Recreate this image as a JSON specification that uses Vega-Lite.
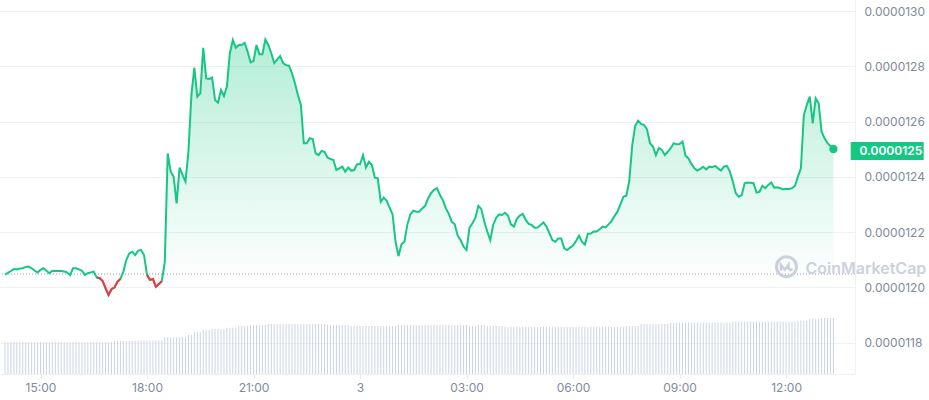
{
"$schema": "https://vega.github.io/schema/vega-lite/v6.json",
"width": 855, "height": 374,
"autosize": {"type": "none"},
"padding": {"left": 0, "top": 0, "right": 74, "bottom": 26},
"background": "white",
"config": {"view": {"stroke": null}, "font": "Inter", "axis": {"labelFont": "Inter", "labelColor": "#808a9d", "labelFontSize": 12, "gridColor": "#eff2f5", "domainColor": "#eff2f5", "tickColor": "#e3e7ee"}},
"data": {"values": [
{"t":"2024-07-02T14:00Z","p":1.2046e-5,"o":1.2048e-5,"v":31.7},{"t":"2024-07-02T14:05Z","p":1.2052e-5,"o":1.2048e-5,"v":31.7},{"t":"2024-07-02T14:10Z","p":1.2059e-5,"o":1.2048e-5,"v":31.7},{"t":"2024-07-02T14:15Z","p":1.2066e-5,"o":1.2048e-5,"v":31.7},{"t":"2024-07-02T14:20Z","p":1.2065e-5,"o":1.2048e-5,"v":31.7},{"t":"2024-07-02T14:25Z","p":1.2068e-5,"o":1.2048e-5,"v":31.7},{"t":"2024-07-02T14:30Z","p":1.2069e-5,"o":1.2048e-5,"v":31.7},{"t":"2024-07-02T14:35Z","p":1.2074e-5,"o":1.2048e-5,"v":31.7},{"t":"2024-07-02T14:40Z","p":1.2075e-5,"o":1.2048e-5,"v":31.7},{"t":"2024-07-02T14:45Z","p":1.2069e-5,"o":1.2048e-5,"v":31.7},
{"t":"2024-07-02T14:50Z","p":1.2061e-5,"o":1.2048e-5,"v":31.7},{"t":"2024-07-02T14:55Z","p":1.2054e-5,"o":1.2048e-5,"v":31.7},{"t":"2024-07-02T15:00Z","p":1.2063e-5,"o":1.2048e-5,"v":31.7},{"t":"2024-07-02T15:05Z","p":1.2069e-5,"o":1.2048e-5,"v":31.7},{"t":"2024-07-02T15:10Z","p":1.2060e-5,"o":1.2048e-5,"v":31.7},{"t":"2024-07-02T15:15Z","p":1.2051e-5,"o":1.2048e-5,"v":31.7},{"t":"2024-07-02T15:20Z","p":1.2060e-5,"o":1.2048e-5,"v":31.7},{"t":"2024-07-02T15:25Z","p":1.2059e-5,"o":1.2048e-5,"v":31.7},{"t":"2024-07-02T15:30Z","p":1.2059e-5,"o":1.2048e-5,"v":31.7},{"t":"2024-07-02T15:35Z","p":1.2059e-5,"o":1.2048e-5,"v":31.7},
{"t":"2024-07-02T15:40Z","p":1.2057e-5,"o":1.2048e-5,"v":31.7},{"t":"2024-07-02T15:45Z","p":1.2054e-5,"o":1.2048e-5,"v":31.7},{"t":"2024-07-02T15:50Z","p":1.2044e-5,"o":1.2048e-5,"v":31.7},{"t":"2024-07-02T15:55Z","p":1.2069e-5,"o":1.2048e-5,"v":31.7},{"t":"2024-07-02T16:00Z","p":1.2069e-5,"o":1.2048e-5,"v":31.7},{"t":"2024-07-02T16:05Z","p":1.2065e-5,"o":1.2048e-5,"v":31.7},{"t":"2024-07-02T16:10Z","p":1.2060e-5,"o":1.2048e-5,"v":31.7},{"t":"2024-07-02T16:15Z","p":1.2045e-5,"o":1.2048e-5,"v":31.7},{"t":"2024-07-02T16:20Z","p":1.2051e-5,"o":1.2048e-5,"v":31.7},{"t":"2024-07-02T16:25Z","p":1.2054e-5,"o":1.2048e-5,"v":31.7},
{"t":"2024-07-02T16:30Z","p":1.2057e-5,"o":1.2048e-5,"v":31.7},{"t":"2024-07-02T16:35Z","p":1.2036e-5,"o":1.2048e-5,"v":31.7},{"t":"2024-07-02T16:40Z","p":1.2033e-5,"o":1.2048e-5,"v":31.7},{"t":"2024-07-02T16:45Z","p":1.2023e-5,"o":1.2048e-5,"v":31.7},{"t":"2024-07-02T16:50Z","p":1.1996e-5,"o":1.2048e-5,"v":31.7},{"t":"2024-07-02T16:55Z","p":1.1972e-5,"o":1.2048e-5,"v":31.7},{"t":"2024-07-02T17:00Z","p":1.1993e-5,"o":1.2048e-5,"v":31.7},{"t":"2024-07-02T17:05Z","p":1.1999e-5,"o":1.2048e-5,"v":33},{"t":"2024-07-02T17:10Z","p":1.2020e-5,"o":1.2048e-5,"v":33},{"t":"2024-07-02T17:15Z","p":1.2030e-5,"o":1.2048e-5,"v":33},
{"t":"2024-07-02T17:20Z","p":1.2057e-5,"o":1.2048e-5,"v":33},{"t":"2024-07-02T17:25Z","p":1.2099e-5,"o":1.2048e-5,"v":33},{"t":"2024-07-02T17:30Z","p":1.2123e-5,"o":1.2048e-5,"v":33},{"t":"2024-07-02T17:35Z","p":1.2129e-5,"o":1.2048e-5,"v":33},{"t":"2024-07-02T17:40Z","p":1.2117e-5,"o":1.2048e-5,"v":33},{"t":"2024-07-02T17:45Z","p":1.2133e-5,"o":1.2048e-5,"v":33.5},{"t":"2024-07-02T17:50Z","p":1.2135e-5,"o":1.2048e-5,"v":33.5},{"t":"2024-07-02T17:55Z","p":1.2117e-5,"o":1.2048e-5,"v":33.5},{"t":"2024-07-02T18:00Z","p":1.2045e-5,"o":1.2048e-5,"v":33.5},{"t":"2024-07-02T18:05Z","p":1.2027e-5,"o":1.2048e-5,"v":33.5},
{"t":"2024-07-02T18:10Z","p":1.2030e-5,"o":1.2048e-5,"v":33.5},{"t":"2024-07-02T18:15Z","p":1.2002e-5,"o":1.2048e-5,"v":33.5},{"t":"2024-07-02T18:20Z","p":1.2012e-5,"o":1.2048e-5,"v":33.5},{"t":"2024-07-02T18:25Z","p":1.2022e-5,"o":1.2048e-5,"v":33.5},{"t":"2024-07-02T18:30Z","p":1.2090e-5,"o":1.2048e-5,"v":36.7},{"t":"2024-07-02T18:35Z","p":1.2485e-5,"o":1.2048e-5,"v":36.7},{"t":"2024-07-02T18:40Z","p":1.2419e-5,"o":1.2048e-5,"v":36.7},{"t":"2024-07-02T18:45Z","p":1.2401e-5,"o":1.2048e-5,"v":36.7},{"t":"2024-07-02T18:50Z","p":1.2304e-5,"o":1.2048e-5,"v":36.7},{"t":"2024-07-02T18:55Z","p":1.2434e-5,"o":1.2048e-5,"v":36.7},
{"t":"2024-07-02T19:00Z","p":1.2407e-5,"o":1.2048e-5,"v":36.7},{"t":"2024-07-02T19:05Z","p":1.2383e-5,"o":1.2048e-5,"v":36.7},{"t":"2024-07-02T19:10Z","p":1.2492e-5,"o":1.2048e-5,"v":39},{"t":"2024-07-02T19:15Z","p":1.2697e-5,"o":1.2048e-5,"v":39},{"t":"2024-07-02T19:20Z","p":1.2796e-5,"o":1.2048e-5,"v":41.7},{"t":"2024-07-02T19:25Z","p":1.2691e-5,"o":1.2048e-5,"v":41.7},{"t":"2024-07-02T19:30Z","p":1.2703e-5,"o":1.2048e-5,"v":41.7},{"t":"2024-07-02T19:35Z","p":1.2868e-5,"o":1.2048e-5,"v":44},{"t":"2024-07-02T19:40Z","p":1.2757e-5,"o":1.2048e-5,"v":44},{"t":"2024-07-02T19:45Z","p":1.2755e-5,"o":1.2048e-5,"v":44},
{"t":"2024-07-02T19:50Z","p":1.2760e-5,"o":1.2048e-5,"v":45},{"t":"2024-07-02T19:55Z","p":1.2679e-5,"o":1.2048e-5,"v":45},{"t":"2024-07-02T20:00Z","p":1.2669e-5,"o":1.2048e-5,"v":45},{"t":"2024-07-02T20:05Z","p":1.2715e-5,"o":1.2048e-5,"v":45},{"t":"2024-07-02T20:10Z","p":1.2693e-5,"o":1.2048e-5,"v":45},{"t":"2024-07-02T20:15Z","p":1.2727e-5,"o":1.2048e-5,"v":46.3},{"t":"2024-07-02T20:20Z","p":1.2848e-5,"o":1.2048e-5,"v":46.3},{"t":"2024-07-02T20:25Z","p":1.2896e-5,"o":1.2048e-5,"v":46.3},{"t":"2024-07-02T20:30Z","p":1.2868e-5,"o":1.2048e-5,"v":46.3},{"t":"2024-07-02T20:35Z","p":1.2878e-5,"o":1.2048e-5,"v":48},
{"t":"2024-07-02T20:40Z","p":1.2878e-5,"o":1.2048e-5,"v":48},{"t":"2024-07-02T20:45Z","p":1.2886e-5,"o":1.2048e-5,"v":48},{"t":"2024-07-02T20:50Z","p":1.2854e-5,"o":1.2048e-5,"v":48},{"t":"2024-07-02T20:55Z","p":1.2815e-5,"o":1.2048e-5,"v":49},{"t":"2024-07-02T21:00Z","p":1.2820e-5,"o":1.2048e-5,"v":49},{"t":"2024-07-02T21:05Z","p":1.2878e-5,"o":1.2048e-5,"v":49},{"t":"2024-07-02T21:10Z","p":1.2844e-5,"o":1.2048e-5,"v":49},{"t":"2024-07-02T21:15Z","p":1.2844e-5,"o":1.2048e-5,"v":49},{"t":"2024-07-02T21:20Z","p":1.2898e-5,"o":1.2048e-5,"v":49},{"t":"2024-07-02T21:25Z","p":1.2878e-5,"o":1.2048e-5,"v":50},
{"t":"2024-07-02T21:30Z","p":1.2848e-5,"o":1.2048e-5,"v":50},{"t":"2024-07-02T21:35Z","p":1.2812e-5,"o":1.2048e-5,"v":50},{"t":"2024-07-02T21:40Z","p":1.2826e-5,"o":1.2048e-5,"v":50},{"t":"2024-07-02T21:45Z","p":1.2838e-5,"o":1.2048e-5,"v":50},{"t":"2024-07-02T21:50Z","p":1.2812e-5,"o":1.2048e-5,"v":50},{"t":"2024-07-02T21:55Z","p":1.2805e-5,"o":1.2048e-5,"v":50},{"t":"2024-07-02T22:00Z","p":1.2803e-5,"o":1.2048e-5,"v":50},{"t":"2024-07-02T22:05Z","p":1.2775e-5,"o":1.2048e-5,"v":50},{"t":"2024-07-02T22:10Z","p":1.2739e-5,"o":1.2048e-5,"v":50},{"t":"2024-07-02T22:15Z","p":1.2697e-5,"o":1.2048e-5,"v":50},
{"t":"2024-07-02T22:20Z","p":1.2661e-5,"o":1.2048e-5,"v":50},{"t":"2024-07-02T22:25Z","p":1.2522e-5,"o":1.2048e-5,"v":50},{"t":"2024-07-02T22:30Z","p":1.2522e-5,"o":1.2048e-5,"v":50},{"t":"2024-07-02T22:35Z","p":1.2540e-5,"o":1.2048e-5,"v":50},{"t":"2024-07-02T22:40Z","p":1.2537e-5,"o":1.2048e-5,"v":50},{"t":"2024-07-02T22:45Z","p":1.2485e-5,"o":1.2048e-5,"v":50},{"t":"2024-07-02T22:50Z","p":1.2479e-5,"o":1.2048e-5,"v":50},{"t":"2024-07-02T22:55Z","p":1.2494e-5,"o":1.2048e-5,"v":50},{"t":"2024-07-02T23:00Z","p":1.2491e-5,"o":1.2048e-5,"v":50},{"t":"2024-07-02T23:05Z","p":1.2470e-5,"o":1.2048e-5,"v":49},
{"t":"2024-07-02T23:10Z","p":1.2465e-5,"o":1.2048e-5,"v":49},{"t":"2024-07-02T23:15Z","p":1.2461e-5,"o":1.2048e-5,"v":49},{"t":"2024-07-02T23:20Z","p":1.2425e-5,"o":1.2048e-5,"v":49},{"t":"2024-07-02T23:25Z","p":1.2431e-5,"o":1.2048e-5,"v":49},{"t":"2024-07-02T23:30Z","p":1.2437e-5,"o":1.2048e-5,"v":49},{"t":"2024-07-02T23:35Z","p":1.2419e-5,"o":1.2048e-5,"v":49},{"t":"2024-07-02T23:40Z","p":1.2434e-5,"o":1.2048e-5,"v":49},{"t":"2024-07-02T23:45Z","p":1.2423e-5,"o":1.2048e-5,"v":48},{"t":"2024-07-02T23:50Z","p":1.2425e-5,"o":1.2048e-5,"v":48},{"t":"2024-07-02T23:55Z","p":1.2446e-5,"o":1.2048e-5,"v":48},
{"t":"2024-07-03T00:00Z","p":1.2446e-5,"o":1.2048e-5,"v":48},{"t":"2024-07-03T00:05Z","p":1.2479e-5,"o":1.2048e-5,"v":48},{"t":"2024-07-03T00:10Z","p":1.2434e-5,"o":1.2048e-5,"v":48},{"t":"2024-07-03T00:15Z","p":1.2455e-5,"o":1.2048e-5,"v":48},{"t":"2024-07-03T00:20Z","p":1.2443e-5,"o":1.2048e-5,"v":48},{"t":"2024-07-03T00:25Z","p":1.2397e-5,"o":1.2048e-5,"v":48},{"t":"2024-07-03T00:30Z","p":1.2395e-5,"o":1.2048e-5,"v":48},{"t":"2024-07-03T00:35Z","p":1.2310e-5,"o":1.2048e-5,"v":48},{"t":"2024-07-03T00:40Z","p":1.2325e-5,"o":1.2048e-5,"v":48},{"t":"2024-07-03T00:45Z","p":1.2313e-5,"o":1.2048e-5,"v":48},
{"t":"2024-07-03T00:50Z","p":1.2289e-5,"o":1.2048e-5,"v":48},{"t":"2024-07-03T00:55Z","p":1.2264e-5,"o":1.2048e-5,"v":48},{"t":"2024-07-03T01:00Z","p":1.2165e-5,"o":1.2048e-5,"v":48},{"t":"2024-07-03T01:05Z","p":1.2113e-5,"o":1.2048e-5,"v":49},{"t":"2024-07-03T01:10Z","p":1.2156e-5,"o":1.2048e-5,"v":49},{"t":"2024-07-03T01:15Z","p":1.2165e-5,"o":1.2048e-5,"v":49},{"t":"2024-07-03T01:20Z","p":1.2228e-5,"o":1.2048e-5,"v":49},{"t":"2024-07-03T01:25Z","p":1.2264e-5,"o":1.2048e-5,"v":49},{"t":"2024-07-03T01:30Z","p":1.2278e-5,"o":1.2048e-5,"v":49},{"t":"2024-07-03T01:35Z","p":1.2274e-5,"o":1.2048e-5,"v":49},
{"t":"2024-07-03T01:40Z","p":1.2274e-5,"o":1.2048e-5,"v":49},{"t":"2024-07-03T01:45Z","p":1.2286e-5,"o":1.2048e-5,"v":49},{"t":"2024-07-03T01:50Z","p":1.2295e-5,"o":1.2048e-5,"v":49},{"t":"2024-07-03T01:55Z","p":1.2322e-5,"o":1.2048e-5,"v":49},{"t":"2024-07-03T02:00Z","p":1.2341e-5,"o":1.2048e-5,"v":49},{"t":"2024-07-03T02:05Z","p":1.2353e-5,"o":1.2048e-5,"v":49},{"t":"2024-07-03T02:10Z","p":1.2359e-5,"o":1.2048e-5,"v":49},{"t":"2024-07-03T02:15Z","p":1.2334e-5,"o":1.2048e-5,"v":49},{"t":"2024-07-03T02:20Z","p":1.2316e-5,"o":1.2048e-5,"v":49},{"t":"2024-07-03T02:25Z","p":1.2286e-5,"o":1.2048e-5,"v":49},
{"t":"2024-07-03T02:30Z","p":1.2266e-5,"o":1.2048e-5,"v":49},{"t":"2024-07-03T02:35Z","p":1.2238e-5,"o":1.2048e-5,"v":49},{"t":"2024-07-03T02:40Z","p":1.2228e-5,"o":1.2048e-5,"v":49},{"t":"2024-07-03T02:45Z","p":1.2187e-5,"o":1.2048e-5,"v":49},{"t":"2024-07-03T02:50Z","p":1.2171e-5,"o":1.2048e-5,"v":49},{"t":"2024-07-03T02:55Z","p":1.2147e-5,"o":1.2048e-5,"v":49},{"t":"2024-07-03T03:00Z","p":1.2135e-5,"o":1.2048e-5,"v":49},{"t":"2024-07-03T03:05Z","p":1.2216e-5,"o":1.2048e-5,"v":48},{"t":"2024-07-03T03:10Z","p":1.2232e-5,"o":1.2048e-5,"v":48},{"t":"2024-07-03T03:15Z","p":1.2252e-5,"o":1.2048e-5,"v":48},
{"t":"2024-07-03T03:20Z","p":1.2295e-5,"o":1.2048e-5,"v":49},{"t":"2024-07-03T03:25Z","p":1.2283e-5,"o":1.2048e-5,"v":49},{"t":"2024-07-03T03:30Z","p":1.2238e-5,"o":1.2048e-5,"v":49},{"t":"2024-07-03T03:35Z","p":1.2202e-5,"o":1.2048e-5,"v":48},{"t":"2024-07-03T03:40Z","p":1.2171e-5,"o":1.2048e-5,"v":48},{"t":"2024-07-03T03:45Z","p":1.2226e-5,"o":1.2048e-5,"v":48},{"t":"2024-07-03T03:50Z","p":1.2252e-5,"o":1.2048e-5,"v":48},{"t":"2024-07-03T03:55Z","p":1.2264e-5,"o":1.2048e-5,"v":48},{"t":"2024-07-03T04:00Z","p":1.2262e-5,"o":1.2048e-5,"v":48},{"t":"2024-07-03T04:05Z","p":1.2270e-5,"o":1.2048e-5,"v":47},
{"t":"2024-07-03T04:10Z","p":1.2260e-5,"o":1.2048e-5,"v":47},{"t":"2024-07-03T04:15Z","p":1.2228e-5,"o":1.2048e-5,"v":47},{"t":"2024-07-03T04:20Z","p":1.2220e-5,"o":1.2048e-5,"v":47},{"t":"2024-07-03T04:25Z","p":1.2248e-5,"o":1.2048e-5,"v":47},{"t":"2024-07-03T04:30Z","p":1.2260e-5,"o":1.2048e-5,"v":47},{"t":"2024-07-03T04:35Z","p":1.2266e-5,"o":1.2048e-5,"v":47},{"t":"2024-07-03T04:40Z","p":1.2244e-5,"o":1.2048e-5,"v":47},{"t":"2024-07-03T04:45Z","p":1.2230e-5,"o":1.2048e-5,"v":47},{"t":"2024-07-03T04:50Z","p":1.2226e-5,"o":1.2048e-5,"v":47},{"t":"2024-07-03T04:55Z","p":1.2216e-5,"o":1.2048e-5,"v":47},
{"t":"2024-07-03T05:00Z","p":1.2217e-5,"o":1.2048e-5,"v":47},{"t":"2024-07-03T05:05Z","p":1.2226e-5,"o":1.2048e-5,"v":47},{"t":"2024-07-03T05:10Z","p":1.2235e-5,"o":1.2048e-5,"v":47},{"t":"2024-07-03T05:15Z","p":1.2220e-5,"o":1.2048e-5,"v":47},{"t":"2024-07-03T05:20Z","p":1.2196e-5,"o":1.2048e-5,"v":47},{"t":"2024-07-03T05:25Z","p":1.2171e-5,"o":1.2048e-5,"v":47},{"t":"2024-07-03T05:30Z","p":1.2165e-5,"o":1.2048e-5,"v":47},{"t":"2024-07-03T05:35Z","p":1.2177e-5,"o":1.2048e-5,"v":47},{"t":"2024-07-03T05:40Z","p":1.2177e-5,"o":1.2048e-5,"v":47},{"t":"2024-07-03T05:45Z","p":1.2141e-5,"o":1.2048e-5,"v":47},
{"t":"2024-07-03T05:50Z","p":1.2135e-5,"o":1.2048e-5,"v":47},{"t":"2024-07-03T05:55Z","p":1.2144e-5,"o":1.2048e-5,"v":47},{"t":"2024-07-03T06:00Z","p":1.2151e-5,"o":1.2048e-5,"v":47},{"t":"2024-07-03T06:05Z","p":1.2168e-5,"o":1.2048e-5,"v":47},{"t":"2024-07-03T06:10Z","p":1.2187e-5,"o":1.2048e-5,"v":47},{"t":"2024-07-03T06:15Z","p":1.2165e-5,"o":1.2048e-5,"v":47},{"t":"2024-07-03T06:20Z","p":1.2155e-5,"o":1.2048e-5,"v":47},{"t":"2024-07-03T06:25Z","p":1.2194e-5,"o":1.2048e-5,"v":47},{"t":"2024-07-03T06:30Z","p":1.2195e-5,"o":1.2048e-5,"v":47},{"t":"2024-07-03T06:35Z","p":1.2202e-5,"o":1.2048e-5,"v":47},
{"t":"2024-07-03T06:40Z","p":1.2202e-5,"o":1.2048e-5,"v":47},{"t":"2024-07-03T06:45Z","p":1.2210e-5,"o":1.2048e-5,"v":47},{"t":"2024-07-03T06:50Z","p":1.2220e-5,"o":1.2048e-5,"v":47},{"t":"2024-07-03T06:55Z","p":1.2217e-5,"o":1.2048e-5,"v":47},{"t":"2024-07-03T07:00Z","p":1.2228e-5,"o":1.2048e-5,"v":47},{"t":"2024-07-03T07:05Z","p":1.2240e-5,"o":1.2048e-5,"v":47},{"t":"2024-07-03T07:10Z","p":1.2258e-5,"o":1.2048e-5,"v":47},{"t":"2024-07-03T07:15Z","p":1.2274e-5,"o":1.2048e-5,"v":47},{"t":"2024-07-03T07:20Z","p":1.2300e-5,"o":1.2048e-5,"v":47},{"t":"2024-07-03T07:25Z","p":1.2328e-5,"o":1.2048e-5,"v":47},
{"t":"2024-07-03T07:30Z","p":1.2332e-5,"o":1.2048e-5,"v":48},{"t":"2024-07-03T07:35Z","p":1.2385e-5,"o":1.2048e-5,"v":48},{"t":"2024-07-03T07:40Z","p":1.2515e-5,"o":1.2048e-5,"v":48},{"t":"2024-07-03T07:45Z","p":1.2585e-5,"o":1.2048e-5,"v":48},{"t":"2024-07-03T07:50Z","p":1.2604e-5,"o":1.2048e-5,"v":48},{"t":"2024-07-03T07:55Z","p":1.2592e-5,"o":1.2048e-5,"v":50},{"t":"2024-07-03T08:00Z","p":1.2588e-5,"o":1.2048e-5,"v":50},{"t":"2024-07-03T08:05Z","p":1.2572e-5,"o":1.2048e-5,"v":50},{"t":"2024-07-03T08:10Z","p":1.2522e-5,"o":1.2048e-5,"v":50},{"t":"2024-07-03T08:15Z","p":1.2510e-5,"o":1.2048e-5,"v":50},
{"t":"2024-07-03T08:20Z","p":1.2479e-5,"o":1.2048e-5,"v":50},{"t":"2024-07-03T08:25Z","p":1.2505e-5,"o":1.2048e-5,"v":50},{"t":"2024-07-03T08:30Z","p":1.2498e-5,"o":1.2048e-5,"v":50},{"t":"2024-07-03T08:35Z","p":1.2479e-5,"o":1.2048e-5,"v":50},{"t":"2024-07-03T08:40Z","p":1.2491e-5,"o":1.2048e-5,"v":50},{"t":"2024-07-03T08:45Z","p":1.2504e-5,"o":1.2048e-5,"v":51.3},{"t":"2024-07-03T08:50Z","p":1.2522e-5,"o":1.2048e-5,"v":51.3},{"t":"2024-07-03T08:55Z","p":1.2518e-5,"o":1.2048e-5,"v":51.3},{"t":"2024-07-03T09:00Z","p":1.2519e-5,"o":1.2048e-5,"v":51.3},{"t":"2024-07-03T09:05Z","p":1.2528e-5,"o":1.2048e-5,"v":51.3},
{"t":"2024-07-03T09:10Z","p":1.2477e-5,"o":1.2048e-5,"v":51.3},{"t":"2024-07-03T09:15Z","p":1.2467e-5,"o":1.2048e-5,"v":51.3},{"t":"2024-07-03T09:20Z","p":1.2447e-5,"o":1.2048e-5,"v":51.3},{"t":"2024-07-03T09:25Z","p":1.2431e-5,"o":1.2048e-5,"v":51.3},{"t":"2024-07-03T09:30Z","p":1.2423e-5,"o":1.2048e-5,"v":51.3},{"t":"2024-07-03T09:35Z","p":1.2429e-5,"o":1.2048e-5,"v":51.3},{"t":"2024-07-03T09:40Z","p":1.2437e-5,"o":1.2048e-5,"v":51.3},{"t":"2024-07-03T09:45Z","p":1.2427e-5,"o":1.2048e-5,"v":51.3},{"t":"2024-07-03T09:50Z","p":1.2437e-5,"o":1.2048e-5,"v":51.3},{"t":"2024-07-03T09:55Z","p":1.2435e-5,"o":1.2048e-5,"v":51.3},
{"t":"2024-07-03T10:00Z","p":1.2440e-5,"o":1.2048e-5,"v":51.3},{"t":"2024-07-03T10:05Z","p":1.2431e-5,"o":1.2048e-5,"v":51.3},{"t":"2024-07-03T10:10Z","p":1.2423e-5,"o":1.2048e-5,"v":51.3},{"t":"2024-07-03T10:15Z","p":1.2437e-5,"o":1.2048e-5,"v":51.3},{"t":"2024-07-03T10:20Z","p":1.2440e-5,"o":1.2048e-5,"v":51.3},{"t":"2024-07-03T10:25Z","p":1.2419e-5,"o":1.2048e-5,"v":51.3},{"t":"2024-07-03T10:30Z","p":1.2383e-5,"o":1.2048e-5,"v":52.3},{"t":"2024-07-03T10:35Z","p":1.2341e-5,"o":1.2048e-5,"v":52.3},{"t":"2024-07-03T10:40Z","p":1.2328e-5,"o":1.2048e-5,"v":52.3},{"t":"2024-07-03T10:45Z","p":1.2334e-5,"o":1.2048e-5,"v":52.3},
{"t":"2024-07-03T10:50Z","p":1.2377e-5,"o":1.2048e-5,"v":52.3},{"t":"2024-07-03T10:55Z","p":1.2380e-5,"o":1.2048e-5,"v":52.3},{"t":"2024-07-03T11:00Z","p":1.2379e-5,"o":1.2048e-5,"v":52.3},{"t":"2024-07-03T11:05Z","p":1.2377e-5,"o":1.2048e-5,"v":52.3},{"t":"2024-07-03T11:10Z","p":1.2343e-5,"o":1.2048e-5,"v":52.3},{"t":"2024-07-03T11:15Z","p":1.2346e-5,"o":1.2048e-5,"v":52.3},{"t":"2024-07-03T11:20Z","p":1.2368e-5,"o":1.2048e-5,"v":52.3},{"t":"2024-07-03T11:25Z","p":1.2359e-5,"o":1.2048e-5,"v":52.3},{"t":"2024-07-03T11:30Z","p":1.2371e-5,"o":1.2048e-5,"v":52.3},{"t":"2024-07-03T11:35Z","p":1.2380e-5,"o":1.2048e-5,"v":52.3},
{"t":"2024-07-03T11:40Z","p":1.2361e-5,"o":1.2048e-5,"v":52.3},{"t":"2024-07-03T11:45Z","p":1.2362e-5,"o":1.2048e-5,"v":52.3},{"t":"2024-07-03T11:50Z","p":1.2359e-5,"o":1.2048e-5,"v":52.3},{"t":"2024-07-03T11:55Z","p":1.2355e-5,"o":1.2048e-5,"v":52.3},{"t":"2024-07-03T12:00Z","p":1.2356e-5,"o":1.2048e-5,"v":52.3},{"t":"2024-07-03T12:05Z","p":1.2356e-5,"o":1.2048e-5,"v":52.3},{"t":"2024-07-03T12:10Z","p":1.2359e-5,"o":1.2048e-5,"v":52.3},{"t":"2024-07-03T12:15Z","p":1.2368e-5,"o":1.2048e-5,"v":52.3},{"t":"2024-07-03T12:20Z","p":1.2401e-5,"o":1.2048e-5,"v":53.3},{"t":"2024-07-03T12:25Z","p":1.2431e-5,"o":1.2048e-5,"v":53.3},
{"t":"2024-07-03T12:30Z","p":1.2624e-5,"o":1.2048e-5,"v":53.3},{"t":"2024-07-03T12:35Z","p":1.2661e-5,"o":1.2048e-5,"v":53.3},{"t":"2024-07-03T12:40Z","p":1.2691e-5,"o":1.2048e-5,"v":55},{"t":"2024-07-03T12:45Z","p":1.2594e-5,"o":1.2048e-5,"v":55},{"t":"2024-07-03T12:50Z","p":1.2685e-5,"o":1.2048e-5,"v":55},{"t":"2024-07-03T12:55Z","p":1.2667e-5,"o":1.2048e-5,"v":55},{"t":"2024-07-03T13:00Z","p":1.2564e-5,"o":1.2048e-5,"v":56},{"t":"2024-07-03T13:05Z","p":1.2540e-5,"o":1.2048e-5,"v":56},{"t":"2024-07-03T13:10Z","p":1.2522e-5,"o":1.2048e-5,"v":56},{"t":"2024-07-03T13:15Z","p":1.2512e-5,"o":1.2048e-5,"v":56},
{"t":"2024-07-03T13:20Z","p":1.2501e-5,"o":1.2048e-5,"v":56}
]},
"layer": [
{
"mark": {"type": "bar", "width": 1, "color": "#cbd3e2"},
"encoding": {
"x": {"field": "t", "type": "temporal", "title": null,
"scale": {"type": "utc", "domain": [1719928800000, 1720014480000], "nice": false},
"axis": {"values": [1719932400000, 1719943200000, 1719954000000, 1719964800000, 1719975600000, 1719986400000, 1719997200000, 1720008000000], "labelExpr": "utchours(datum.value) == 0 ? utcFormat(datum.value, '%-d') : utcFormat(datum.value, '%H:%M')", "grid": false, "domain": true, "domainColor": "#eff2f5", "ticks": true, "tickSize": 4, "tickColor": "#e3e7ee", "labelPadding": 4, "labelFlush": false}},
"y": {"field": "v", "type": "quantitative", "scale": {"domain": [0, 374]}, "axis": null}
}
},
{
"mark": {"type": "area", "line": false, "color": {"gradient": "linear", "x1": 0, "y1": 0, "x2": 0, "y2": 1, "stops": [{"offset": 0, "color": "rgba(22,199,132,0.32)"}, {"offset": 0.918, "color": "rgba(22,199,132,0.01)"}, {"offset": 0.918, "color": "rgba(234,57,67,0.01)"}, {"offset": 1, "color": "rgba(234,57,67,0.14)"}]}},
"encoding": {
"x": {"field": "t", "type": "temporal", "title": null, "scale": {"type": "utc", "domain": [1719928800000, 1720014480000], "nice": false}},
"y": {"field": "p", "type": "quantitative", "title": null,
"scale": {"domain": [0.0000116859, 0.0000130409], "nice": false, "zero": false},
"axis": {"orient": "right", "values": [0.0000118, 0.000012, 0.0000122, 0.0000124, 0.0000126, 0.0000128, 0.000013], "format": ".7f", "ticks": false, "labelPadding": 9, "grid": true, "gridColor": "#eff2f5", "domain": true, "domainColor": "#eff2f5"}},
"y2": {"field": "o"}
}
},
{
"data": {"values": [{"o": 0.000012048}]},
"mark": {"type": "rule", "color": "#9aa1b2", "strokeDash": [1, 2], "strokeWidth": 1},
"encoding": {"y": {"field": "o", "type": "quantitative", "title": null, "scale": {"domain": [0.0000116859, 0.0000130409], "nice": false, "zero": false}, "axis": null}}
},
{
"mark": {"type": "line", "strokeWidth": 2, "color": "#16c784"},
"encoding": {
"x": {"field": "t", "type": "temporal", "title": null, "scale": {"type": "utc", "domain": [1719928800000, 1720014480000], "nice": false}},
"y": {"field": "p", "type": "quantitative", "title": null, "scale": {"domain": [0.0000116859, 0.0000130409], "nice": false, "zero": false}, "axis": null}
}
},
{
"data": {"values": [
{"t":"2024-07-02T16:35Z","p":1.2036e-5,"seg":"a"},{"t":"2024-07-02T16:40Z","p":1.2033e-5,"seg":"a"},{"t":"2024-07-02T16:45Z","p":1.2023e-5,"seg":"a"},{"t":"2024-07-02T16:50Z","p":1.1996e-5,"seg":"a"},{"t":"2024-07-02T16:55Z","p":1.1972e-5,"seg":"a"},{"t":"2024-07-02T17:00Z","p":1.1993e-5,"seg":"a"},{"t":"2024-07-02T17:05Z","p":1.1999e-5,"seg":"a"},{"t":"2024-07-02T17:10Z","p":1.2020e-5,"seg":"a"},{"t":"2024-07-02T17:15Z","p":1.2030e-5,"seg":"a"},
{"t":"2024-07-02T18:00Z","p":1.2045e-5,"seg":"b"},{"t":"2024-07-02T18:05Z","p":1.2027e-5,"seg":"b"},{"t":"2024-07-02T18:10Z","p":1.2030e-5,"seg":"b"},{"t":"2024-07-02T18:15Z","p":1.2002e-5,"seg":"b"},{"t":"2024-07-02T18:20Z","p":1.2012e-5,"seg":"b"},{"t":"2024-07-02T18:25Z","p":1.2022e-5,"seg":"b"}
]},
"mark": {"type": "line", "strokeWidth": 2, "color": "#ea3943"},
"encoding": {
"x": {"field": "t", "type": "temporal", "title": null, "scale": {"type": "utc", "domain": [1719928800000, 1720014480000], "nice": false}},
"y": {"field": "p", "type": "quantitative", "title": null, "scale": {"domain": [0.0000116859, 0.0000130409], "nice": false, "zero": false}, "axis": null},
"detail": {"field": "seg", "type": "nominal"}
}
},
{
"data": {"values": [{"t": "2024-07-03T13:20Z", "p": 1.2501e-5, "brand": "CoinMarketCap"}]},
"layer": [
{"mark": {"type": "point", "filled": true, "opacity": 1, "size": 70, "color": "#16c784"}},
{"mark": {"type": "point", "filled": true, "opacity": 1, "size": 324, "color": "#16c784", "shape": "M1.92,-0.78H10.03V1.22H1.92Z"}},
{"mark": {"type": "text", "align": "left", "baseline": "middle", "dx": 26, "dy": 2, "color": "white", "fontSize": 12, "fontWeight": 600, "font": "Inter"}, "encoding": {"text": {"field": "p", "type": "quantitative", "format": ".7f"}}},
{"mark": {"type": "text", "align": "left", "baseline": "middle", "dx": -28, "dy": 120, "color": "#cbd1dc", "fontSize": 16, "fontWeight": 600, "font": "Inter"}, "encoding": {"text": {"field": "brand", "type": "nominal"}}},
{"mark": {"type": "point", "filled": false, "opacity": 1, "size": 400, "strokeWidth": 3, "color": "#cbd1dc", "shape": "M-3.7,11.77A1,1,0,1,1,-5.7,11.77A1,1,0,1,1,-3.7,11.77Z"}},
{"mark": {"type": "point", "filled": false, "opacity": 1, "size": 400, "strokeWidth": 2.5, "color": "#cbd1dc", "shape": "M-5.25,12.17L-5.25,11.57L-4.85,12.07L-4.5,11.57L-4.5,11.92L-4.3,12.12L-4.08,11.97"}}
],
"encoding": {
"x": {"field": "t", "type": "temporal", "title": null, "scale": {"type": "utc", "domain": [1719928800000, 1720014480000], "nice": false}},
"y": {"field": "p", "type": "quantitative", "title": null, "scale": {"domain": [0.0000116859, 0.0000130409], "nice": false, "zero": false}, "axis": null}
}
}
],
"resolve": {"scale": {"y": "independent"}}
}
